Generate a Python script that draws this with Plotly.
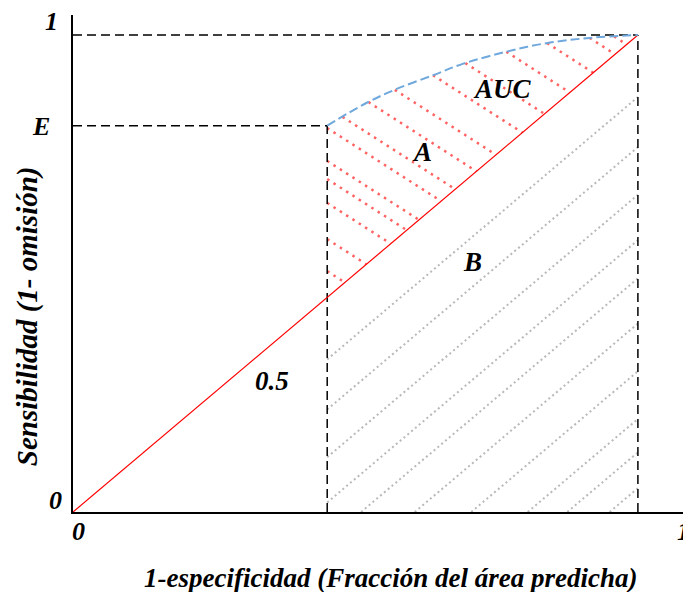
import numpy as np
import plotly.graph_objects as go

# ---- data ----
x_cut = 0.45          # 1-especificidad where the ROC segment starts
e_level = 0.81        # sensitivity level E
diag_x = [0.0, 1.0]
diag_y = [0.0, 1.0]

curve_x = [0.45, 0.52, 0.573, 0.638, 0.691, 0.767, 0.838, 0.915, 1.0]
curve_y = [0.81, 0.858, 0.887, 0.916, 0.94, 0.965, 0.983, 0.994, 1.0]

# red hatch (area A): lines y = b - m*x
hatch_a_slope = 0.76
hatch_a_b = [0.847, 0.914, 0.99, 1.04, 1.078, 1.147, 1.191, 1.257, 1.318,
             1.40, 1.469, 1.548, 1.621, 1.689, 1.725]
# gray hatch (area B): lines y = x - c
hatch_b_c = [0.13, 0.235, 0.335, 0.43, 0.51, 0.605, 0.705, 0.805, 0.875, 0.95]

x_max = 1.094
y_max = 1.042

FONT = "Liberation Serif, Times New Roman, serif"

fig = go.Figure()

# gray hatching
for c in hatch_b_c:
    x0 = max(x_cut, c)
    xs = [x0, 1.0]
    ys = [x - c for x in xs]
    fig.add_trace(go.Scatter(x=xs, y=ys, mode="lines",
                             line=dict(color="#b9b9b9", width=2, dash="2px,3px"),
                             hoverinfo="skip", showlegend=False))

# red hatching between curve and diagonal
xs_dense = np.linspace(x_cut, 1.0, 4000)
cy_dense = np.interp(xs_dense, curve_x, curve_y)
for b in hatch_a_b:
    ly = b - hatch_a_slope * xs_dense
    inside = np.where(ly <= cy_dense + 1e-9)[0]
    if len(inside) == 0:
        continue
    xs0 = xs_dense[inside[0]]
    xe = b / (1.0 + hatch_a_slope)
    if xe <= xs0:
        continue
    fig.add_trace(go.Scatter(x=[xs0, xe], y=[b - hatch_a_slope * xs0, b - hatch_a_slope * xe],
                             mode="lines",
                             line=dict(color="#ff6464", width=2.5, dash="2.5px,5px"),
                             hoverinfo="skip", showlegend=False))

# black dashed guide lines
dash_style = dict(color="black", width=1.5, dash="9px,5px")
guides = [([0, 1.0], [1.0, 1.0]),
          ([0, x_cut], [e_level, e_level]),
          ([x_cut, x_cut], [0, e_level]),
          ([1.0, 1.0], [0, 1.0])]
for gx, gy in guides:
    fig.add_trace(go.Scatter(x=gx, y=gy, mode="lines", line=dash_style,
                             hoverinfo="skip", showlegend=False))

# diagonal
fig.add_trace(go.Scatter(x=diag_x, y=diag_y, mode="lines",
                         line=dict(color="#ff0000", width=1.2),
                         hoverinfo="skip", showlegend=False))

# ROC curve
fig.add_trace(go.Scatter(x=curve_x, y=curve_y, mode="lines", line_shape="spline",
                         line=dict(color="#6fa8dc", width=2, dash="9px,4px"),
                         hoverinfo="skip", showlegend=False))

def lab(text, x, y, size=27, ref="data", **kw):
    r = {} if ref == "data" else dict(xref="paper", yref="paper")
    fig.add_annotation(text="<b><i>%s</i></b>" % text, x=x, y=y, showarrow=False,
                       xanchor="center", yanchor="middle",
                       font=dict(family=FONT, size=size, color="black"), **r, **kw)

# in-plot labels
lab("AUC", 0.761, 0.887)
lab("A", 0.618, 0.755)
lab("B", 0.708, 0.524)
lab("0.5", 0.352, 0.275)
# tick labels (paper coords, outside the axes)
lab("1", -0.034, 0.986, size=26, ref="paper")
lab("E", -0.052, 0.775, size=26, ref="paper")
lab("0", -0.029, 0.024, size=26, ref="paper")
lab("0", 0.0097, -0.040, size=26, ref="paper")
lab("1", 0.988, -0.040, size=26, ref="paper")
# axis titles
lab("1-especificidad (Fracción del área predicha)", 0.513, -0.133, size=27, ref="paper")
lab("Sensibilidad (1- omisión)", -0.0744, 0.394, size=29, ref="paper", textangle=-90)

fig.update_xaxes(range=[0, x_max], showline=True, linecolor="black", linewidth=2,
                 showgrid=False, zeroline=False, showticklabels=False, ticks="")
fig.update_yaxes(range=[0, y_max], showline=True, linecolor="black", linewidth=2,
                 showgrid=False, zeroline=False, showticklabels=False, ticks="")
# the page body adds an 8px offset, so the figure is sized/margined to compensate
fig.update_layout(width=683, height=584, margin=dict(l=65, r=0, t=7, b=80),
                  plot_bgcolor="white", paper_bgcolor="white")

fig.write_html("out.html")
